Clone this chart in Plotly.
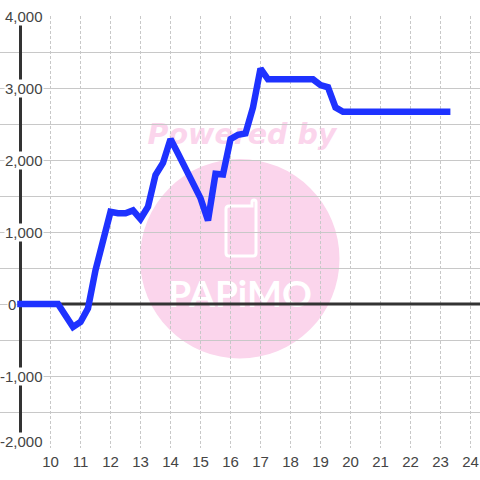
import plotly.graph_objects as go

hours = [8.89, 9, 9.5, 10, 10.25, 10.5, 10.75, 11, 11.25, 11.5, 11.75, 12, 12.25, 12.5, 12.75,
         13, 13.25, 13.5, 13.75, 14, 14.25, 14.5, 14.75, 15, 15.25, 15.5, 15.75, 16, 16.25,
         16.5, 16.75, 17, 17.25, 17.5, 18, 18.5, 18.75, 19, 19.25, 19.5, 19.75, 20, 21, 22, 23, 23.33]
values = [0, 0, 0, 0, 0, -160, -320, -250, -60, 470, 890, 1280, 1260, 1260, 1300,
          1180, 1350, 1790, 1960, 2290, 2090, 1880, 1670, 1470, 1160, 1810, 1800, 2290, 2350,
          2370, 2730, 3270, 3120, 3120, 3120, 3120, 3120, 3040, 3010, 2730, 2670, 2670, 2670, 2670, 2670, 2670]

x_ticks = list(range(10, 25))
y_grid = list(range(-2000, 4001, 500))
y_labels = ["4,000", "3,000", "2,000", "1,000", "0", "-1,000", "-2,000"]
y_label_values = [4000, 3000, 2000, 1000, 0, -1000, -2000]

W, H = 480, 480
T, B = 16, 32
PH = H - T - B
X0 = 9 - 20.5 / 30
X1 = X0 + W / 30
GRID = "#c8c8c8"
DARK = "#333333"
PINK = "#fbd5ec"
FONT = "Liberation Sans"


def px(v):
    return v / W


def py(v):
    return (T + PH - v) / PH


shapes = [
    dict(type="circle", xref="paper", yref="paper", layer="below",
         x0=px(140), x1=px(339.5), y0=py(358.5), y1=py(159),
         fillcolor=PINK, line=dict(width=0)),
    dict(type="rect", xref="paper", yref="paper", layer="below",
         x0=px(140), x1=px(344), y0=py(148), y1=py(116), line=dict(width=0),
         fillcolor="rgba(0,0,0,0)",
         label=dict(text="<b><i>Powered by</i></b>", textposition="middle center",
                    font=dict(family="DejaVu Sans", size=28.5, color=PINK))),
    dict(type="path", xref="paper", yref="paper", layer="below",
         path=" ".join([
             f"M {px(229)} {py(206)}", f"Q {px(226)} {py(206)} {px(226)} {py(209)}",
             f"L {px(226)} {py(253)}", f"Q {px(226)} {py(256)} {px(229)} {py(256)}",
             f"L {px(253)} {py(256)}", f"Q {px(256)} {py(256)} {px(256)} {py(253)}",
             f"L {px(256)} {py(202)}", f"Q {px(256)} {py(200)} {px(254)} {py(200)}",
             f"Q {px(252)} {py(200)} {px(252)} {py(202)}", f"L {px(252)} {py(206)} Z"]),
         line=dict(color="white", width=3), fillcolor="rgba(0,0,0,0)"),
    dict(type="rect", xref="paper", yref="paper", layer="below",
         x0=px(165), x1=px(315), y0=py(310), y1=py(274), line=dict(width=0),
         fillcolor="rgba(0,0,0,0)",
         label=dict(text="<b>PAPiMO</b>", textposition="middle center",
                    font=dict(family="Lato", size=37, color="white"))),
    dict(type="line", xref="x", yref="y", layer="between", x0=9, x1=9, y0=-2000, y1=4000,
         line=dict(color=DARK, width=3)),
    dict(type="line", xref="x", yref="y", layer="between", x0=9, x1=X1, y0=0, y1=0,
         line=dict(color=DARK, width=3)),
]

annotations = []
for lab, val in zip(y_labels, y_label_values):
    annotations.append(dict(
        text=lab, xref="paper", yref="y", x=px(17 if lab == "0" else 44), y=val,
        xanchor="right", yanchor="middle", showarrow=False, bgcolor="white", borderpad=0,
        yshift=7 if val == -2000 else 0,
        font=dict(family=FONT, size=15, color="#444444")))

fig = go.Figure(go.Scatter(x=hours, y=values, mode="lines",
                           line=dict(color="#1e32ff", width=6.5), hoverinfo="skip"))
fig.update_layout(
    width=W, height=H, margin=dict(l=0, r=0, t=T, b=B, pad=0),
    paper_bgcolor="white", plot_bgcolor="white", showlegend=False,
    shapes=shapes, annotations=annotations,
    font=dict(family=FONT, size=15, color="#444444"),
    xaxis=dict(range=[X0, X1], tickmode="array", tickvals=x_ticks,
               ticktext=[str(t) for t in x_ticks], showgrid=True, gridcolor=GRID,
               griddash="3px,2px", gridwidth=1, zeroline=False, showline=False, ticks="",
               ticklabelstandoff=3),
    yaxis=dict(range=[-2000, 4000], tickmode="array", tickvals=y_grid, showticklabels=False,
               showgrid=True, gridcolor=GRID, gridwidth=1, zeroline=False, showline=False, ticks=""),
)
fig.write_html("out.html", config=dict(displayModeBar=False),
               post_script="document.body.style.margin='0';document.body.style.overflow='hidden';")
